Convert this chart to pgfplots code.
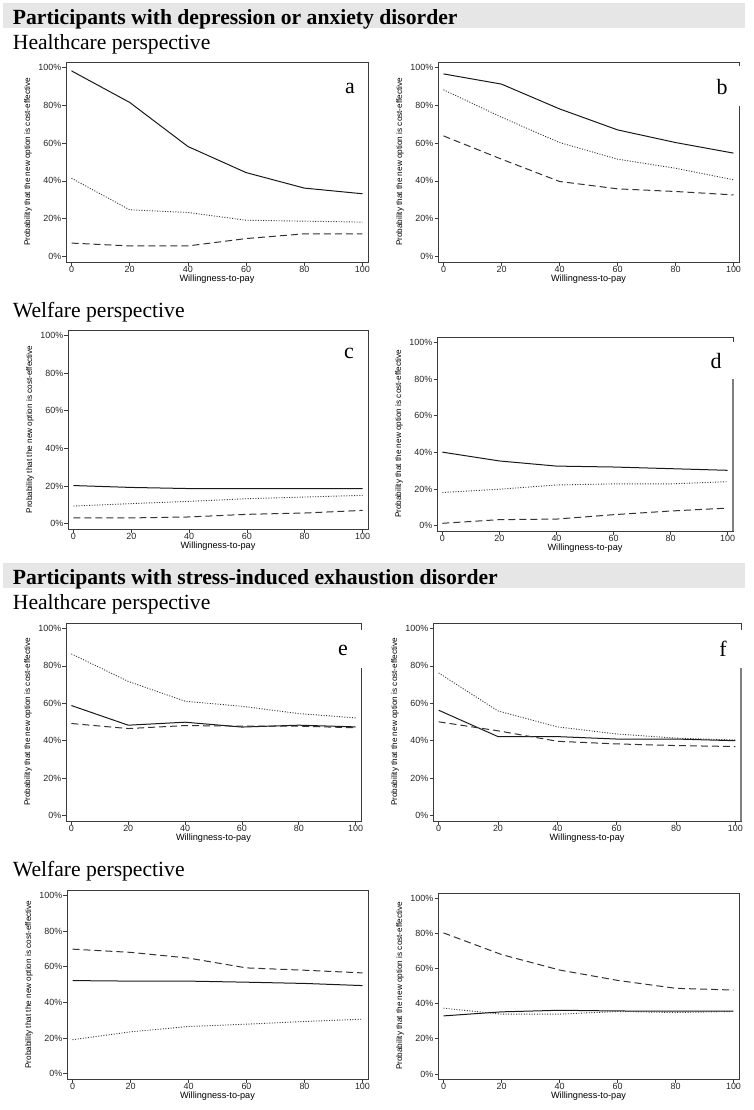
\documentclass[border=0pt]{standalone}
\usepackage{pgfplots}
\pgfplotsset{compat=1.18}
\usepackage{fontspec}
\setmainfont{Liberation Serif}
\setsansfont{Liberation Sans}

\definecolor{axisgray}{HTML}{3C3C3C}
\definecolor{bandgray}{HTML}{E6E6E6}

\pgfplotsset{
  ceac/.style={
    scale only axis,
    xmin=-1.9, xmax=101.9, ymin=-2.9, ymax=102.9,
    xtick={0,20,40,60,80,100}, ytick={0,20,40,60,80,100},
    yticklabel={\pgfmathprintnumber{\tick}\%},
    /pgf/number format/assume math mode=true,
    axis line style={draw=axisgray, line width=0.9bp},
    tick align=outside, tick pos=left,
    major tick length=3.5bp,
    tick style={draw=axisgray, line width=0.7bp},
    ticklabel style={font=\sffamily\fontsize{9}{9}\selectfont, text=black!85},
    xticklabel style={inner sep=0.5bp},
    yticklabel style={inner sep=1bp},
    every axis x label/.style={at={(axis description cs:0.5,0)}, yshift=-13bp,
      anchor=north, inner sep=0pt, font=\sffamily\fontsize{9.2}{9.2}\selectfont},
    every axis y label/.style={at={(axis description cs:0,0.5)}, xshift=-38bp,
      rotate=90, anchor=center, inner sep=0pt, font=\sffamily\fontsize{8.2}{8.2}\selectfont},
    xlabel={Willingness-to-pay},
    ylabel={Probability that the new option is cost-effective},
    clip=false,
  },
  s1/.style={black!90, line width=1bp},
  s2/.style={black!80, line width=0.9bp, dash pattern=on 1bp off 1.6bp},
  s3/.style={black!80, line width=1bp, dash pattern=on 7bp off 4bp},
}
\tikzset{letter/.style={font=\fontsize{22}{22}\selectfont, inner sep=0pt}}

\begin{document}
\begin{tikzpicture}
\path[use as bounding box] (0,0) rectangle (754bp,-1110bp);

% section headers
\fill[bandgray] (2.7bp,-3.3bp) rectangle (745bp,-28.3bp);
\node[anchor=base west, inner sep=0pt, font=\bfseries\fontsize{21.7}{21.7}\selectfont]
  at (12.7bp,-24bp) {Participants with depression or anxiety disorder};
\node[anchor=base west, inner sep=0pt, font=\fontsize{21.7}{21.7}\selectfont]
  at (12.7bp,-49.3bp) {Healthcare perspective};
\node[anchor=base west, inner sep=0pt, font=\fontsize{21.7}{21.7}\selectfont]
  at (12.7bp,-317bp) {Welfare perspective};
\fill[bandgray] (2.7bp,-563.3bp) rectangle (745bp,-588.3bp);
\node[anchor=base west, inner sep=0pt, font=\bfseries\fontsize{21.7}{21.7}\selectfont]
  at (12.7bp,-584bp) {Participants with stress-induced exhaustion disorder};
\node[anchor=base west, inner sep=0pt, font=\fontsize{21.7}{21.7}\selectfont]
  at (12.7bp,-609bp) {Healthcare perspective};
\node[anchor=base west, inner sep=0pt, font=\fontsize{21.7}{21.7}\selectfont]
  at (12.7bp,-876bp) {Welfare perspective};

% a
\begin{axis}[ceac, at={(66bp,-262bp)}, anchor=south west, width=302bp, height=200bp]
\addplot[s1] coordinates {(0,98.2)(20,81.5)(40,58.2)(60,44.4)(80,36.2)(100,33.2)};
\addplot[s2] coordinates {(0,41.4)(20,24.7)(40,23.3)(60,19.2)(80,18.7)(100,18.2)};
\addplot[s3] coordinates {(0,7.1)(20,5.6)(40,5.6)(60,9.5)(80,12)(100,12)};
\node[letter] at (rel axis cs:0.94,0.87) {a};
\end{axis}

% b
\begin{axis}[ceac, at={(438bp,-262bp)}, anchor=south west, width=301bp, height=200bp]
\addplot[s1] coordinates {(0,96.6)(20,91.2)(40,78.1)(60,67)(80,60.3)(100,54.7)};
\addplot[s2] coordinates {(0,88.2)(20,73.7)(40,60.3)(60,51.5)(80,46.7)(100,40.6)};
\addplot[s3] coordinates {(0,63.8)(20,51.5)(40,39.7)(60,35.8)(80,34.4)(100,32.6)};
\end{axis}

% c
\begin{axis}[ceac, at={(68bp,-529bp)}, anchor=south west, width=300bp, height=199bp]
\addplot[s1] coordinates {(0,20.2)(20,19.2)(40,18.6)(60,18.6)(80,18.6)(100,18.6)};
\addplot[s2] coordinates {(0,9.3)(20,10.6)(40,11.8)(60,13.2)(80,14.1)(100,15)};
\addplot[s3] coordinates {(0,3)(20,3)(40,3.5)(60,4.9)(80,5.6)(100,7)};
\node[letter] at (rel axis cs:0.937,0.884) {c};
\end{axis}

% d
\begin{axis}[ceac, at={(437bp,-531bp)}, anchor=south west, width=296bp, height=194bp]
\addplot[s1] coordinates {(0,40.1)(20,35.3)(40,32.5)(60,32)(80,31.1)(100,30.2)};
\addplot[s2] coordinates {(0,18.1)(20,19.9)(40,22.2)(60,22.8)(80,22.8)(100,24)};
\addplot[s3] coordinates {(0,1.3)(20,3.3)(40,3.6)(60,6)(80,8)(100,9.6)};
\end{axis}

% e
\begin{axis}[ceac, at={(66bp,-821bp)}, anchor=south west, width=295bp, height=198bp]
\addplot[s1] coordinates {(0,58.8)(20,48.3)(40,49.9)(60,47.3)(80,48.3)(100,47.4)};
\addplot[s2] coordinates {(0,86.4)(20,71.7)(40,61.1)(60,58.4)(80,54.5)(100,52.2)};
\addplot[s3] coordinates {(0,49.2)(20,46.5)(40,48.1)(60,47.8)(80,47.8)(100,46.9)};
\end{axis}

% f
\begin{axis}[ceac, at={(433bp,-821bp)}, anchor=south west, width=308bp, height=198bp]
\addplot[s1] coordinates {(0,56.3)(20,42.2)(40,42.2)(60,40.9)(80,40.9)(100,40)};
\addplot[s2] coordinates {(0,76.2)(20,55.9)(40,47.4)(60,43.6)(80,41.4)(100,40.4)};
\addplot[s3] coordinates {(0,50.1)(20,45.3)(40,39.7)(60,38.3)(80,37.4)(100,36.9)};
\end{axis}

% g
\begin{axis}[ceac, at={(67bp,-1079bp)}, anchor=south west, width=301bp, height=189bp]
\addplot[s1] coordinates {(0,52.2)(20,51.9)(40,51.9)(60,51.3)(80,50.6)(100,49.4)};
\addplot[s2] coordinates {(0,19.1)(20,23.5)(40,26.5)(60,27.8)(80,29.3)(100,30.6)};
\addplot[s3] coordinates {(0,69.8)(20,68)(40,64.8)(60,59.3)(80,58)(100,56.5)};
\end{axis}

% h
\begin{axis}[ceac, at={(438bp,-1079bp)}, anchor=south west, width=301bp, height=186bp]
\addplot[s1] coordinates {(0,33)(20,35.3)(40,36.2)(60,35.8)(80,35.7)(100,35.7)};
\addplot[s2] coordinates {(0,37.4)(20,34)(40,34)(60,35.5)(80,34.9)(100,35.5)};
\addplot[s3] coordinates {(0,80.2)(20,67.9)(40,59.1)(60,53.2)(80,48.7)(100,47.7)};
\end{axis}

% panel letters sitting on white boxes that cut the right frame
\fill[white] (733bp,-66bp) rectangle (745bp,-106bp);
\node[letter] at (722bp,-87bp) {b};
\fill[white] (728bp,-342bp) rectangle (740bp,-379bp);
\draw[gray, line width=2bp] (733bp,-379bp) -- (733bp,-531bp);
\node[letter] at (716bp,-361bp) {d};
\fill[white] (356bp,-630bp) rectangle (368bp,-668bp);
\node[letter] at (343bp,-650bp) {e};
\fill[white] (736bp,-630bp) rectangle (748bp,-668bp);
\draw[gray, line width=2bp] (741bp,-668bp) -- (741bp,-821bp);
\node[letter] at (723bp,-649bp) {f};
\end{tikzpicture}
\end{document}
